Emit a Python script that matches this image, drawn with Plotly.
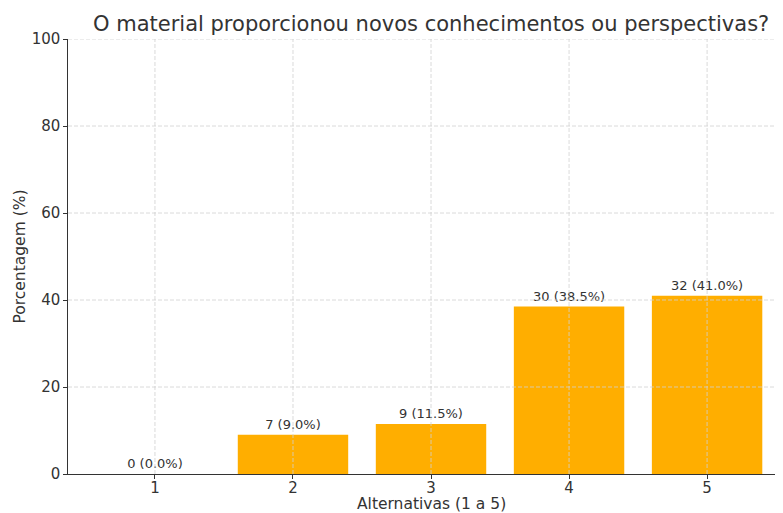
import plotly.graph_objects as go

categories = [1, 2, 3, 4, 5]
counts = [0, 7, 9, 30, 32]
percentages = [0.0, 9.0, 11.5, 38.5, 41.0]
labels = [f"{c} ({p:.1f}%)" for c, p in zip(counts, percentages)]
y_ticks = [0, 20, 40, 60, 80, 100]

FONT = "DejaVu Sans"
TXT = "#333333"
GRID = dict(color="#d0d0d0", width=0.8, dash="4px,2px")

fig = go.Figure()
fig.add_trace(go.Bar(
    x=categories, y=percentages, width=0.8,
    marker=dict(color="#FFAE00", line=dict(width=0)),
    text=labels, textposition="outside", cliponaxis=False,
    textfont=dict(family=FONT, size=13, color=TXT),
))

# grid drawn above bars (as in reference)
for t in y_ticks[1:]:
    fig.add_shape(type="line", xref="paper", yref="y", x0=0, x1=1, y0=t, y1=t,
                  line=GRID, layer="above")
for c in categories:
    fig.add_shape(type="line", xref="x", yref="paper", x0=c, x1=c, y0=0, y1=1,
                  line=GRID, layer="above")

# title and axis titles as annotations for exact placement
fig.add_annotation(text="O material proporcionou novos conhecimentos ou perspectivas?",
                   xref="x", x=3, yref="paper", y=1, yshift=15, showarrow=False,
                   xanchor="center", yanchor="middle",
                   font=dict(family=FONT, size=21, color=TXT))
fig.add_annotation(text="Alternativas (1 a 5)", xref="x", x=3, yref="paper", y=0,
                   yshift=-30, showarrow=False, xanchor="center", yanchor="middle",
                   font=dict(family=FONT, size=15.5, color=TXT))
fig.add_annotation(text="Porcentagem (%)", xref="paper", x=0, xshift=-49, yref="paper",
                   y=0.5, textangle=-90, showarrow=False, xanchor="center", yanchor="middle",
                   font=dict(family=FONT, size=15.5, color=TXT))

# page body has an 8px margin, so the figure is sized/offset to compensate
fig.update_layout(
    width=775, height=505,
    margin=dict(l=60, r=0, t=31, b=39, autoexpand=False),
    paper_bgcolor="white", plot_bgcolor="white",
    font=dict(family=FONT, color=TXT),
    showlegend=False,
    bargap=0.2,
)
fig.update_xaxes(
    range=[0.37, 5.55], tickvals=categories, ticktext=[str(c) for c in categories],
    showgrid=False, zeroline=False, showline=True, linecolor="#333333", linewidth=1.2,
    ticks="outside", ticklen=3.5, tickcolor="#333333", automargin=False,
    ticklabelstandoff=-4,
    tickfont=dict(family=FONT, size=15, color=TXT),
)
fig.update_yaxes(
    range=[0, 100], tickvals=y_ticks,
    showgrid=False, zeroline=False, showline=True, linecolor="#333333", linewidth=1.2,
    ticks="outside", ticklen=3.5, tickcolor="#333333", automargin=False,
    tickfont=dict(family=FONT, size=15, color=TXT),
)

fig.write_html("out.html")
